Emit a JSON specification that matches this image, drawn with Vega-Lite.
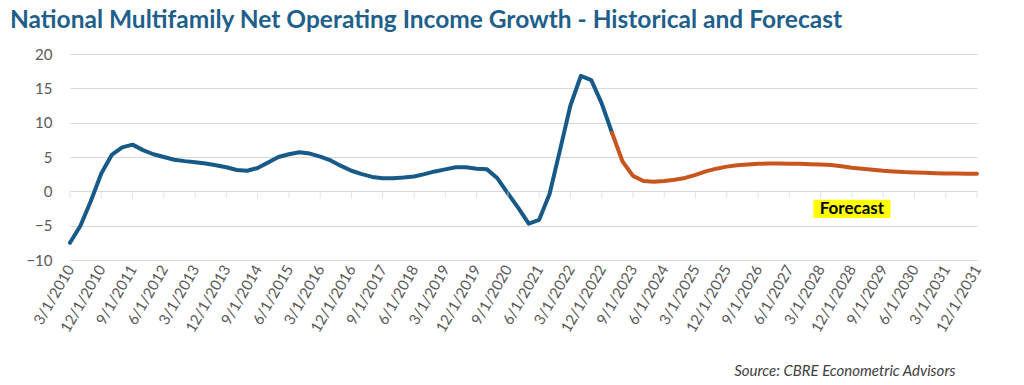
{
  "$schema": "https://vega.github.io/schema/vega-lite/v6.json",
  "width": 907,
  "height": 206,
  "autosize": {"type": "none"},
  "padding": {"left": 70, "top": 54, "right": 47, "bottom": 125},
  "background": "white",
  "config": {"view": {"stroke": null}, "axisY": {"tickCount": 7}},
  "title": {
    "text": "National Multifamily Net Operating Income Growth  - Historical and Forecast",
    "anchor": "start", "frame": "group", "dx": -60, "offset": 14,
    "font": "Lato", "fontSize": 24.5, "fontWeight": "bold", "color": "#1f5f8b"
  },
  "datasets": {
    "noi": [
      {"date": "3/1/2010", "value": -7.5, "series": "Historical"},
      {"date": "6/1/2010", "value": -5.0, "series": "Historical"},
      {"date": "9/1/2010", "value": -1.4, "series": "Historical"},
      {"date": "12/1/2010", "value": 2.6, "series": "Historical"},
      {"date": "3/1/2011", "value": 5.3, "series": "Historical"},
      {"date": "6/1/2011", "value": 6.4, "series": "Historical"},
      {"date": "9/1/2011", "value": 6.8, "series": "Historical"},
      {"date": "12/1/2011", "value": 6.0, "series": "Historical"},
      {"date": "3/1/2012", "value": 5.4, "series": "Historical"},
      {"date": "6/1/2012", "value": 5.0, "series": "Historical"},
      {"date": "9/1/2012", "value": 4.6, "series": "Historical"},
      {"date": "12/1/2012", "value": 4.4, "series": "Historical"},
      {"date": "3/1/2013", "value": 4.25, "series": "Historical"},
      {"date": "6/1/2013", "value": 4.05, "series": "Historical"},
      {"date": "9/1/2013", "value": 3.8, "series": "Historical"},
      {"date": "12/1/2013", "value": 3.5, "series": "Historical"},
      {"date": "3/1/2014", "value": 3.1, "series": "Historical"},
      {"date": "6/1/2014", "value": 3.0, "series": "Historical"},
      {"date": "9/1/2014", "value": 3.4, "series": "Historical"},
      {"date": "12/1/2014", "value": 4.2, "series": "Historical"},
      {"date": "3/1/2015", "value": 5.0, "series": "Historical"},
      {"date": "6/1/2015", "value": 5.4, "series": "Historical"},
      {"date": "9/1/2015", "value": 5.7, "series": "Historical"},
      {"date": "12/1/2015", "value": 5.5, "series": "Historical"},
      {"date": "3/1/2016", "value": 5.05, "series": "Historical"},
      {"date": "6/1/2016", "value": 4.5, "series": "Historical"},
      {"date": "9/1/2016", "value": 3.7, "series": "Historical"},
      {"date": "12/1/2016", "value": 3.0, "series": "Historical"},
      {"date": "3/1/2017", "value": 2.5, "series": "Historical"},
      {"date": "6/1/2017", "value": 2.1, "series": "Historical"},
      {"date": "9/1/2017", "value": 1.9, "series": "Historical"},
      {"date": "12/1/2017", "value": 1.9, "series": "Historical"},
      {"date": "3/1/2018", "value": 2.0, "series": "Historical"},
      {"date": "6/1/2018", "value": 2.15, "series": "Historical"},
      {"date": "9/1/2018", "value": 2.5, "series": "Historical"},
      {"date": "12/1/2018", "value": 2.9, "series": "Historical"},
      {"date": "3/1/2019", "value": 3.2, "series": "Historical"},
      {"date": "6/1/2019", "value": 3.5, "series": "Historical"},
      {"date": "9/1/2019", "value": 3.5, "series": "Historical"},
      {"date": "12/1/2019", "value": 3.3, "series": "Historical"},
      {"date": "3/1/2020", "value": 3.2, "series": "Historical"},
      {"date": "6/1/2020", "value": 1.9, "series": "Historical"},
      {"date": "9/1/2020", "value": -0.3, "series": "Historical"},
      {"date": "12/1/2020", "value": -2.4, "series": "Historical"},
      {"date": "3/1/2021", "value": -4.7, "series": "Historical"},
      {"date": "6/1/2021", "value": -4.15, "series": "Historical"},
      {"date": "9/1/2021", "value": -0.4, "series": "Historical"},
      {"date": "12/1/2021", "value": 6.0, "series": "Historical"},
      {"date": "3/1/2022", "value": 12.5, "series": "Historical"},
      {"date": "6/1/2022", "value": 16.8, "series": "Historical"},
      {"date": "9/1/2022", "value": 16.2, "series": "Historical"},
      {"date": "12/1/2022", "value": 12.8, "series": "Historical"},
      {"date": "3/1/2023", "value": 8.5, "series": "Historical"},
      {"date": "3/1/2023", "value": 8.5, "series": "Forecast"},
      {"date": "6/1/2023", "value": 4.35, "series": "Forecast"},
      {"date": "9/1/2023", "value": 2.25, "series": "Forecast"},
      {"date": "12/1/2023", "value": 1.5, "series": "Forecast"},
      {"date": "3/1/2024", "value": 1.4, "series": "Forecast"},
      {"date": "6/1/2024", "value": 1.5, "series": "Forecast"},
      {"date": "9/1/2024", "value": 1.7, "series": "Forecast"},
      {"date": "12/1/2024", "value": 1.95, "series": "Forecast"},
      {"date": "3/1/2025", "value": 2.4, "series": "Forecast"},
      {"date": "6/1/2025", "value": 2.9, "series": "Forecast"},
      {"date": "9/1/2025", "value": 3.3, "series": "Forecast"},
      {"date": "12/1/2025", "value": 3.6, "series": "Forecast"},
      {"date": "3/1/2026", "value": 3.8, "series": "Forecast"},
      {"date": "6/1/2026", "value": 3.9, "series": "Forecast"},
      {"date": "9/1/2026", "value": 4.0, "series": "Forecast"},
      {"date": "12/1/2026", "value": 4.05, "series": "Forecast"},
      {"date": "3/1/2027", "value": 4.05, "series": "Forecast"},
      {"date": "6/1/2027", "value": 4.0, "series": "Forecast"},
      {"date": "9/1/2027", "value": 4.0, "series": "Forecast"},
      {"date": "12/1/2027", "value": 3.95, "series": "Forecast"},
      {"date": "3/1/2028", "value": 3.9, "series": "Forecast"},
      {"date": "6/1/2028", "value": 3.85, "series": "Forecast"},
      {"date": "9/1/2028", "value": 3.65, "series": "Forecast"},
      {"date": "12/1/2028", "value": 3.45, "series": "Forecast"},
      {"date": "3/1/2029", "value": 3.3, "series": "Forecast"},
      {"date": "6/1/2029", "value": 3.15, "series": "Forecast"},
      {"date": "9/1/2029", "value": 3.0, "series": "Forecast"},
      {"date": "12/1/2029", "value": 2.9, "series": "Forecast"},
      {"date": "3/1/2030", "value": 2.8, "series": "Forecast"},
      {"date": "6/1/2030", "value": 2.75, "series": "Forecast"},
      {"date": "9/1/2030", "value": 2.7, "series": "Forecast"},
      {"date": "12/1/2030", "value": 2.65, "series": "Forecast"},
      {"date": "3/1/2031", "value": 2.6, "series": "Forecast"},
      {"date": "6/1/2031", "value": 2.6, "series": "Forecast"},
      {"date": "9/1/2031", "value": 2.55, "series": "Forecast"},
      {"date": "12/1/2031", "value": 2.55, "series": "Forecast"}
    ],
    "note": [
      {"date": "12/1/2028", "value": -2.55, "label": "Forecast"}
    ]
  },
  "layer": [
    {
      "data": {"name": "noi"},
      "mark": {"type": "line", "strokeWidth": 4, "interpolate": "linear", "strokeJoin": "round", "strokeCap": "round"},
      "encoding": {
        "x": {
          "field": "date", "type": "ordinal", "sort": null,
          "scale": {"type": "point", "padding": 0, "domain": ["3/1/2010","6/1/2010","9/1/2010","12/1/2010","3/1/2011","6/1/2011","9/1/2011","12/1/2011","3/1/2012","6/1/2012","9/1/2012","12/1/2012","3/1/2013","6/1/2013","9/1/2013","12/1/2013","3/1/2014","6/1/2014","9/1/2014","12/1/2014","3/1/2015","6/1/2015","9/1/2015","12/1/2015","3/1/2016","6/1/2016","9/1/2016","12/1/2016","3/1/2017","6/1/2017","9/1/2017","12/1/2017","3/1/2018","6/1/2018","9/1/2018","12/1/2018","3/1/2019","6/1/2019","9/1/2019","12/1/2019","3/1/2020","6/1/2020","9/1/2020","12/1/2020","3/1/2021","6/1/2021","9/1/2021","12/1/2021","3/1/2022","6/1/2022","9/1/2022","12/1/2022","3/1/2023","6/1/2023","9/1/2023","12/1/2023","3/1/2024","6/1/2024","9/1/2024","12/1/2024","3/1/2025","6/1/2025","9/1/2025","12/1/2025","3/1/2026","6/1/2026","9/1/2026","12/1/2026","3/1/2027","6/1/2027","9/1/2027","12/1/2027","3/1/2028","6/1/2028","9/1/2028","12/1/2028","3/1/2029","6/1/2029","9/1/2029","12/1/2029","3/1/2030","6/1/2030","9/1/2030","12/1/2030","3/1/2031","6/1/2031","9/1/2031","12/1/2031"]},
          "axis": {
            "values": ["3/1/2010","12/1/2010","9/1/2011","6/1/2012","3/1/2013","12/1/2013","9/1/2014","6/1/2015","3/1/2016","12/1/2016","9/1/2017","6/1/2018","3/1/2019","12/1/2019","9/1/2020","6/1/2021","3/1/2022","12/1/2022","9/1/2023","6/1/2024","3/1/2025","12/1/2025","9/1/2026","6/1/2027","3/1/2028","12/1/2028","9/1/2029","6/1/2030","3/1/2031","12/1/2031"],
            "labelAngle": -60, "labelFont": "Lato", "labelFontSize": 15, "labelColor": "#595959",
            "labelPadding": 6, "labelOverlap": false, "ticks": false, "domain": false, "grid": false,
            "title": "Source: CBRE Econometric Advisors",
            "titleFont": "Lato", "titleFontStyle": "italic", "titleFontWeight": "normal",
            "titleFontSize": 15, "titleColor": "#404040",
            "titleAlign": "right", "titleX": 885, "titleY": 110, "titleBaseline": "middle"
          }
        },
        "y": {
          "field": "value", "type": "quantitative",
          "scale": {"domain": [-10, 20]},
          "axis": {
            "values": [-10, -5, 0, 5, 10, 15, 20], "tickCount": 7, "title": null, "labelOverlap": false,
            "ticks": false, "domain": false, "gridColor": "#d9d9d9", "gridWidth": 1,
            "labelFont": "Lato", "labelFontSize": 15, "labelColor": "#595959", "labelPadding": 18
          }
        },
        "color": {
          "field": "series", "type": "nominal",
          "scale": {"domain": ["Historical", "Forecast"], "range": ["#175a87", "#c8551e"]},
          "legend": null
        }
      }
    },
    {
      "data": {"name": "noi"},
      "transform": [{"filter": {"field": "date", "oneOf": ["3/1/2010","12/1/2010","9/1/2011","6/1/2012","3/1/2013","12/1/2013","9/1/2014","6/1/2015","3/1/2016","12/1/2016","9/1/2017","6/1/2018","3/1/2019","12/1/2019","9/1/2020","6/1/2021","3/1/2022","12/1/2022","9/1/2023","6/1/2024","3/1/2025","12/1/2025","9/1/2026","6/1/2027","3/1/2028","12/1/2028","9/1/2029","6/1/2030","3/1/2031","12/1/2031"]}}],
      "mark": {"type": "tick", "orient": "vertical", "size": 7, "thickness": 1, "color": "#d9d9d9", "yOffset": 3.5},
      "encoding": {
        "x": {"field": "date", "type": "ordinal", "sort": null},
        "y": {"datum": 0, "type": "quantitative", "axis": {"values": [-10, -5, 0, 5, 10, 15, 20], "labelOverlap": false}}
      }
    },
    {
      "data": {"name": "note"},
      "mark": {"type": "point", "shape": "M-1,-0.235L1,-0.235L1,0.235L-1,0.235Z", "filled": true, "color": "#ffff00", "opacity": 1, "size": 5929},
      "encoding": {
        "x": {"field": "date", "type": "ordinal", "sort": null},
        "y": {"field": "value", "type": "quantitative", "axis": {"values": [-10, -5, 0, 5, 10, 15, 20], "labelOverlap": false}}
      }
    },
    {
      "data": {"name": "note"},
      "mark": {"type": "text", "font": "Lato", "fontSize": 17, "fontWeight": "bold", "color": "#000000", "align": "center", "baseline": "middle"},
      "encoding": {
        "x": {"field": "date", "type": "ordinal", "sort": null},
        "y": {"field": "value", "type": "quantitative", "axis": {"values": [-10, -5, 0, 5, 10, 15, 20], "labelOverlap": false}},
        "text": {"field": "label"}
      }
    }
  ]
}
